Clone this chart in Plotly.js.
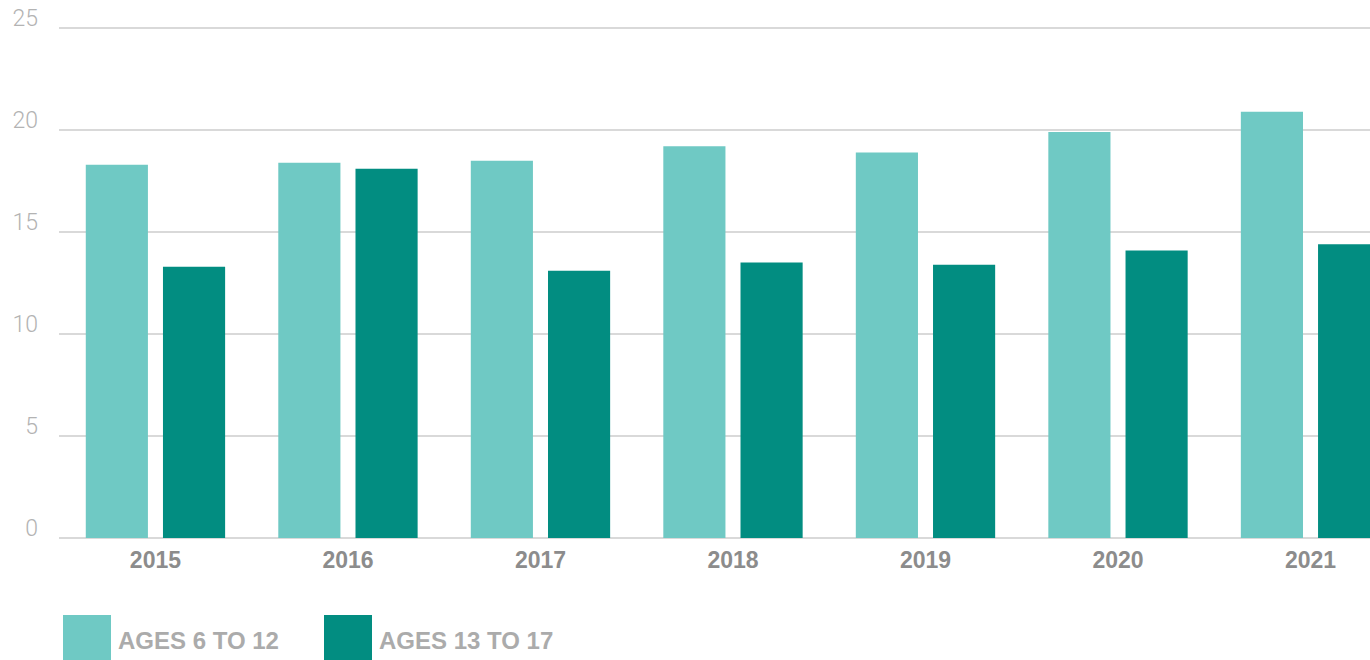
<!DOCTYPE html>
<html>
<head>
<meta charset="utf-8">
<script src="https://cdn.plot.ly/plotly-3.0.1.min.js"></script>
<style>
html,body{margin:0;padding:0;background:#fff;}
#chart{width:1370px;height:660px;}
</style>
</head>
<body>
<div id="chart"></div>
<script>
const years = ['2015','2016','2017','2018','2019','2020','2021'];
const ages6to12 = [18.3, 18.4, 18.5, 19.2, 18.9, 19.9, 20.9];
const ages13to17 = [13.3, 18.1, 13.1, 13.5, 13.4, 14.1, 14.4];
const seriesNames = ['AGES 6 TO 12', 'AGES 13 TO 17'];
const yTicks = [0, 5, 10, 15, 20, 25];

const lightColor = '#6fc9c4';
const darkColor = '#028d81';

const W = 1370, H = 660;
const mL = 59, mR = 0, mT = 26, mB = 122;
const plotW = W - mL - mR, plotH = H - mT - mB;
const px2x = p => (p - mL) / plotW;
const py2y = p => (H - mB - p) / plotH;

const traces = [
  {type:'bar', x: years, y: ages6to12, name: seriesNames[0], marker:{color: lightColor}, showlegend:false, hoverinfo:'x+y'},
  {type:'bar', x: years, y: ages13to17, name: seriesNames[1], marker:{color: darkColor}, showlegend:false, hoverinfo:'x+y'}
];

const colors = [lightColor, darkColor];
const swX = [63, 324];
const shapes = [];
const annotations = [];
seriesNames.forEach((n, i) => {
  shapes.push({type:'rect', xref:'paper', yref:'paper',
    x0: px2x(swX[i]), x1: px2x(swX[i] + 48), y0: py2y(615), y1: py2y(663),
    fillcolor: colors[i], line:{width:0}, layer:'above'});
  annotations.push({xref:'paper', yref:'paper', x: px2x(swX[i] + 53), y: py2y(640),
    xanchor:'left', yanchor:'middle', showarrow:false, text: n,
    font:{family:'Liberation Sans, Arial, sans-serif', size:24, color:'#ababab', weight:700}});
});

const layout = {
  width: W, height: H,
  margin: {l: mL, r: mR, t: mT, b: mB, pad: 0},
  paper_bgcolor: '#ffffff', plot_bgcolor: '#ffffff',
  barmode: 'group', bargap: 0.198, bargroupgap: 0.195,
  showlegend: false,
  xaxis: {
    type:'category', range:[-0.501, 6.309], fixedrange:true,
    showgrid:false, zeroline:false, showline:false, ticks:'',
    ticklabelstandoff: 6,
    tickfont:{family:'Liberation Sans, Arial, sans-serif', size:23, color:'#8c8c8c', weight:700}
  },
  yaxis: {
    range:[0, 25.1], tickvals: yTicks, ticktext: yTicks.map(String), fixedrange:true,
    showgrid:true, gridcolor:'#d9d9d9', gridwidth:2,
    zeroline:true, zerolinecolor:'#d9d9d9', zerolinewidth:2,
    showline:false, ticks:'',
    ticklabelshift: -10, ticklabelstandoff: 20,
    tickfont:{family:'Roboto, Liberation Sans, sans-serif', size:23, color:'#b3b3b3', weight:300}
  },
  shapes: shapes,
  annotations: annotations
};

Plotly.newPlot('chart', traces, layout, {displayModeBar:false, staticPlot:true});
</script>
</body>
</html>
